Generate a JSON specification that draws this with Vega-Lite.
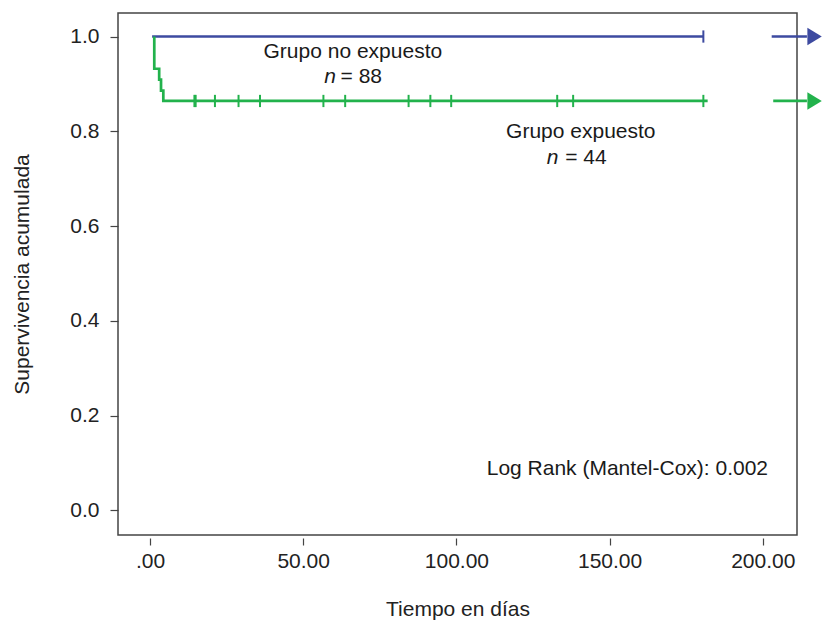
{
  "$schema": "https://vega.github.io/schema/vega-lite/v6.json",
  "autosize": {"type": "none"},
  "padding": {"left": 118, "top": 13, "right": 25, "bottom": 90},
  "width": 679,
  "height": 522,
  "background": "white",
  "config": {
    "view": {"stroke": "#444444", "strokeWidth": 1.5},
    "font": "Liberation Sans",
    "axis": {
      "grid": false,
      "domain": false,
      "tickColor": "#444444",
      "tickWidth": 1.2,
      "labelFont": "Liberation Sans",
      "titleFont": "Liberation Sans",
      "labelFontSize": 21,
      "titleFontSize": 21,
      "titleFontWeight": "normal",
      "labelColor": "#222222",
      "titleColor": "#222222"
    }
  },
  "datasets": {
    "curves": [
      {"grupo": "no expuesto", "ord": 1, "t": 0.7, "s": 1.0},
      {"grupo": "no expuesto", "ord": 2, "t": 180.6, "s": 1.0},
      {"grupo": "expuesto", "ord": 1, "t": 1.4, "s": 1.0},
      {"grupo": "expuesto", "ord": 2, "t": 1.4, "s": 0.932},
      {"grupo": "expuesto", "ord": 3, "t": 3.0, "s": 0.932},
      {"grupo": "expuesto", "ord": 4, "t": 3.0, "s": 0.909},
      {"grupo": "expuesto", "ord": 5, "t": 3.6, "s": 0.909},
      {"grupo": "expuesto", "ord": 6, "t": 3.6, "s": 0.886},
      {"grupo": "expuesto", "ord": 7, "t": 4.35, "s": 0.886},
      {"grupo": "expuesto", "ord": 8, "t": 4.35, "s": 0.864},
      {"grupo": "expuesto", "ord": 9, "t": 182.0, "s": 0.864}
    ],
    "censored": [
      {"grupo": "no expuesto", "t": 180.6, "s": 1.0},
      {"grupo": "expuesto", "t": 14.5, "s": 0.864},
      {"grupo": "expuesto", "t": 14.9, "s": 0.864},
      {"grupo": "expuesto", "t": 21.2, "s": 0.864},
      {"grupo": "expuesto", "t": 28.9, "s": 0.864},
      {"grupo": "expuesto", "t": 35.9, "s": 0.864},
      {"grupo": "expuesto", "t": 56.6, "s": 0.864},
      {"grupo": "expuesto", "t": 63.7, "s": 0.864},
      {"grupo": "expuesto", "t": 84.4, "s": 0.864},
      {"grupo": "expuesto", "t": 91.5, "s": 0.864},
      {"grupo": "expuesto", "t": 98.3, "s": 0.864},
      {"grupo": "expuesto", "t": 132.9, "s": 0.864},
      {"grupo": "expuesto", "t": 138.1, "s": 0.864},
      {"grupo": "expuesto", "t": 180.6, "s": 0.864}
    ],
    "arrows": [
      {"grupo": "no expuesto", "ord": 1, "t": 202.9, "s": 1.0},
      {"grupo": "no expuesto", "ord": 2, "t": 214.4, "s": 1.0},
      {"grupo": "expuesto", "ord": 1, "t": 203.4, "s": 0.864},
      {"grupo": "expuesto", "ord": 2, "t": 214.4, "s": 0.864}
    ],
    "heads": [
      {"grupo": "no expuesto", "t": 216.9, "s": 1.0},
      {"grupo": "expuesto", "t": 216.9, "s": 0.864}
    ],
    "labels": [
      {"label": "Grupo no expuesto", "t": 66.2, "s": 0.954, "kind": "center"},
      {"label": "= 88", "t": 62.2, "s": 0.901, "kind": "left"},
      {"label": "Grupo expuesto", "t": 140.6, "s": 0.785, "kind": "center"},
      {"label": "= 44", "t": 135.5, "s": 0.7304, "kind": "left"},
      {"label": "Log Rank (Mantel-Cox): 0.002", "t": 155.8, "s": 0.0749, "kind": "center"}
    ],
    "italics": [
      {"label": "n", "t": 60.7, "s": 0.901},
      {"label": "n", "t": 133.3, "s": 0.7304}
    ]
  },
  "encoding": {
    "x": {
      "field": "t",
      "type": "quantitative",
      "scale": {"domain": [-10.44, 211.16], "nice": false, "zero": false},
      "axis": {
        "title": "Tiempo en días",
        "values": [0, 50, 100, 150, 200],
        "format": ".2f",
        "labelExpr": "datum.value == 0 ? '.00' : format(datum.value, '.2f')",
        "offset": 3,
        "tickSize": 7,
        "labelPadding": 5,
        "titlePadding": 27
      }
    },
    "y": {
      "field": "s",
      "type": "quantitative",
      "scale": {"domain": [-0.0517, 1.0496], "nice": false, "zero": false},
      "axis": {
        "title": "Supervivencia acumulada",
        "values": [0, 0.2, 0.4, 0.6, 0.8, 1.0],
        "format": ".1f",
        "tickSize": 8,
        "labelPadding": 11,
        "titlePadding": 37
      }
    },
    "color": {
      "field": "grupo",
      "type": "nominal",
      "scale": {"domain": ["no expuesto", "expuesto"], "range": ["#3d4aa0", "#22b24c"]},
      "legend": null
    }
  },
  "layer": [
    {
      "data": {"name": "curves"},
      "mark": {"type": "line", "strokeWidth": 2.7, "interpolate": "linear"},
      "encoding": {"order": {"field": "ord", "type": "quantitative"}, "detail": {"field": "grupo"}}
    },
    {
      "data": {"name": "censored"},
      "mark": {"type": "point", "shape": "M0,-1V1", "size": 150, "filled": false, "strokeWidth": 2, "opacity": 1}
    },
    {
      "data": {"name": "arrows"},
      "mark": {"type": "line", "strokeWidth": 2.7},
      "encoding": {"order": {"field": "ord", "type": "quantitative"}, "detail": {"field": "grupo"}}
    },
    {
      "data": {"name": "heads"},
      "mark": {"type": "point", "shape": "M-0.9,-1.1L0.9,0L-0.9,1.1Z", "size": 256, "filled": true, "opacity": 1}
    },
    {
      "data": {"name": "labels"},
      "transform": [{"filter": "datum.kind == 'center'"}],
      "mark": {"type": "text", "align": "center", "baseline": "alphabetic", "fontSize": 21, "font": "Liberation Sans"},
      "encoding": {"text": {"field": "label"}, "color": {"value": "#1a1a1a"}}
    },
    {
      "data": {"name": "labels"},
      "transform": [{"filter": "datum.kind == 'left'"}],
      "mark": {"type": "text", "align": "left", "baseline": "alphabetic", "fontSize": 21, "font": "Liberation Sans"},
      "encoding": {"text": {"field": "label"}, "color": {"value": "#1a1a1a"}}
    },
    {
      "data": {"name": "italics"},
      "mark": {"type": "text", "align": "right", "baseline": "alphabetic", "fontSize": 21, "fontStyle": "italic", "font": "Liberation Sans"},
      "encoding": {"text": {"field": "label"}, "color": {"value": "#1a1a1a"}}
    }
  ]
}
